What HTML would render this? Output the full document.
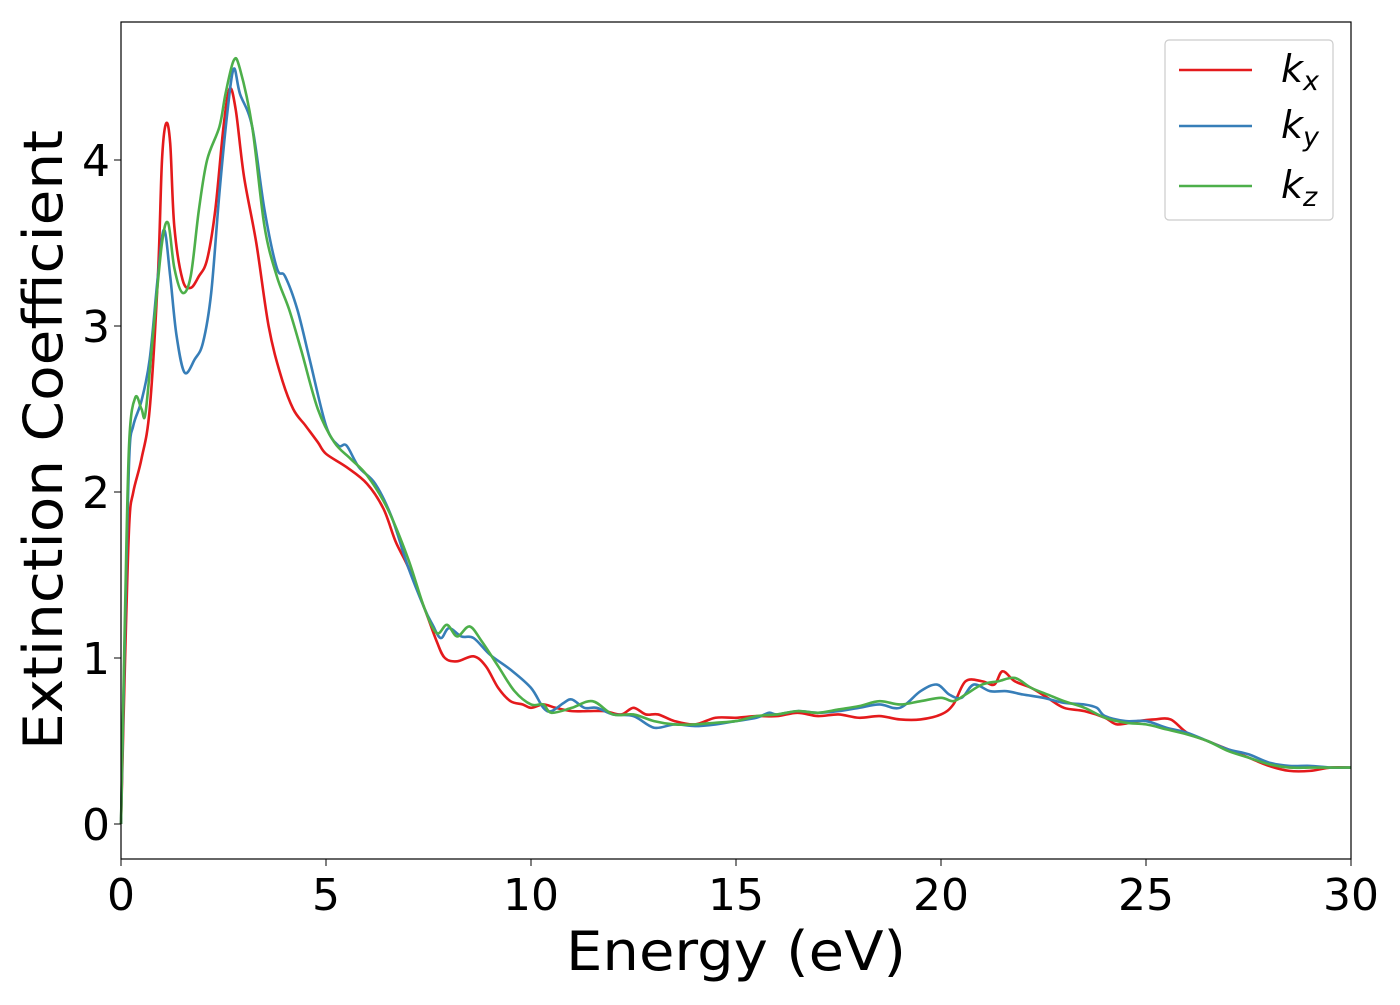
<!DOCTYPE html>
<html><head><meta charset="utf-8"><style>
body{margin:0;background:#fff;}
svg text{font-family:"DejaVu Sans","Liberation Sans",sans-serif;}
</style></head><body>
<svg id="chart" width="1400" height="1000" viewBox="0 0 1400 1000" xmlns="http://www.w3.org/2000/svg">
<rect width="1400" height="1000" fill="#fff"/>
<g id="plot"></g>
<rect x="121" y="22" width="1230" height="837" fill="none" stroke="#000" stroke-width="1.2"/>
<g id="ticks"></g>
<text x="736" y="970" font-size="54" text-anchor="middle" textLength="340" lengthAdjust="spacingAndGlyphs">Energy (eV)</text>
<text transform="translate(62,440) rotate(-90)" font-size="54" text-anchor="middle" textLength="620" lengthAdjust="spacingAndGlyphs">Extinction Coefficient</text>
<g>
<rect x="1165" y="40" width="168" height="180" rx="4" fill="#fff" fill-opacity="0.8" stroke="#ccc" stroke-width="1.2"/>
<line x1="1179" y1="70" x2="1252" y2="70" stroke="#e41a1c" stroke-width="2.5"/>
<text x="1281" y="82" font-size="38" font-style="italic">k<tspan font-size="27" dy="8">x</tspan></text>
<line x1="1179" y1="126" x2="1252" y2="126" stroke="#377eb8" stroke-width="2.5"/>
<text x="1281" y="138" font-size="38" font-style="italic">k<tspan font-size="27" dy="8">y</tspan></text>
<line x1="1179" y1="186" x2="1252" y2="186" stroke="#4daf4a" stroke-width="2.5"/>
<text x="1281" y="198" font-size="38" font-style="italic">k<tspan font-size="27" dy="8">z</tspan></text>
</g>
</svg>
<script>
const xTicks=[0,5,10,15,20,25,30];
const yTicks=[0,1,2,3,4];
const kxE=[0,0.1,0.2,0.3,0.5,0.7,0.9,1.0,1.1,1.2,1.3,1.5,1.7,1.9,2.1,2.3,2.5,2.65,2.8,3.0,3.3,3.6,3.9,4.2,4.5,4.8,5.0,5.5,6.0,6.4,6.7,7.0,7.4,7.7,7.9,8.2,8.6,8.9,9.2,9.5,9.8,10.0,10.3,10.6,11,11.4,11.8,12.2,12.5,12.8,13.1,13.5,14,14.5,15,15.5,16,16.5,17,17.5,18,18.5,19,19.5,20,20.3,20.6,21,21.3,21.5,21.8,22.2,22.6,23,23.5,24,24.3,24.8,25.2,25.6,26,26.5,27,27.5,28,28.5,29,29.5,30];
const kxV=[0,1.0,1.8,2.0,2.2,2.5,3.3,4.0,4.22,4.1,3.6,3.28,3.23,3.3,3.4,3.7,4.2,4.43,4.3,3.9,3.5,3.0,2.7,2.5,2.4,2.3,2.23,2.15,2.05,1.9,1.7,1.55,1.3,1.1,1.0,0.98,1.01,0.95,0.82,0.74,0.72,0.7,0.72,0.7,0.68,0.68,0.68,0.66,0.7,0.66,0.66,0.62,0.6,0.64,0.64,0.65,0.65,0.67,0.65,0.66,0.64,0.65,0.63,0.63,0.66,0.72,0.86,0.86,0.84,0.92,0.86,0.82,0.76,0.7,0.68,0.64,0.6,0.62,0.63,0.63,0.55,0.5,0.45,0.4,0.35,0.32,0.32,0.34,0.34];
const kyE=[0,0.1,0.2,0.3,0.5,0.7,0.9,1.05,1.2,1.35,1.55,1.8,2.0,2.2,2.4,2.6,2.75,2.9,3.2,3.5,3.8,4.0,4.3,4.6,5.0,5.3,5.5,5.8,6.2,6.6,7.0,7.4,7.6,7.8,8.0,8.3,8.6,9,9.5,10,10.3,10.5,10.8,11,11.3,11.6,12,12.5,13,13.5,14,14.5,15,15.5,15.8,16,16.5,17,17.5,18,18.5,19,19.5,19.9,20.2,20.5,20.8,21.2,21.6,22,22.5,23,23.5,23.8,24,24.5,25,25.5,26,26.5,27,27.5,28,28.5,29,29.5,30];
const kyV=[0,1.2,2.2,2.4,2.55,2.8,3.3,3.58,3.3,2.95,2.72,2.8,2.9,3.2,3.8,4.3,4.55,4.4,4.2,3.7,3.35,3.3,3.1,2.8,2.4,2.28,2.28,2.15,2.05,1.85,1.55,1.3,1.2,1.12,1.18,1.13,1.12,1.02,0.93,0.82,0.7,0.68,0.73,0.75,0.7,0.7,0.66,0.65,0.58,0.6,0.59,0.6,0.62,0.64,0.67,0.66,0.68,0.67,0.68,0.7,0.72,0.7,0.8,0.84,0.78,0.76,0.84,0.8,0.8,0.78,0.76,0.73,0.72,0.7,0.65,0.62,0.62,0.58,0.55,0.5,0.45,0.42,0.37,0.35,0.35,0.34,0.34];
const kzE=[0,0.1,0.2,0.35,0.5,0.6,0.8,1.0,1.15,1.3,1.5,1.7,1.9,2.1,2.4,2.55,2.75,2.9,3.2,3.5,3.8,4.1,4.4,4.8,5.2,5.6,6.0,6.5,7.0,7.4,7.7,7.95,8.2,8.5,8.8,9.2,9.6,10,10.3,10.5,11,11.5,12,12.5,13,13.5,14,14.5,15,15.5,16,16.5,17,17.5,18,18.5,19,19.5,20,20.3,20.6,21,21.4,21.8,22.2,22.6,23,23.5,24,24.5,25,25.5,26,26.5,27,27.5,28,28.5,29,29.5,30];
const kzV=[0,1.3,2.3,2.57,2.5,2.48,3.0,3.5,3.62,3.35,3.2,3.3,3.7,4.0,4.2,4.4,4.6,4.55,4.2,3.6,3.3,3.1,2.85,2.5,2.3,2.2,2.1,1.9,1.6,1.3,1.15,1.2,1.13,1.19,1.1,0.95,0.8,0.72,0.72,0.67,0.7,0.74,0.66,0.66,0.62,0.6,0.6,0.61,0.62,0.65,0.66,0.68,0.67,0.69,0.71,0.74,0.72,0.74,0.76,0.74,0.78,0.84,0.86,0.88,0.82,0.78,0.74,0.7,0.64,0.61,0.6,0.57,0.54,0.5,0.44,0.4,0.36,0.34,0.34,0.34,0.34];
const NS="http://www.w3.org/2000/svg";
const X=v=>121+v*41;
const Y=v=>824-v*166;
function smooth(xs,ys){
  const p=xs.map((x,i)=>[X(x),Y(ys[i])]);
  let d="M"+p[0][0]+","+p[0][1];
  for(let i=0;i<p.length-1;i++){
    const p0=p[Math.max(0,i-1)],p1=p[i],p2=p[i+1],p3=p[Math.min(p.length-1,i+2)];
    const c1=[p1[0]+(p2[0]-p0[0])/6,p1[1]+(p2[1]-p0[1])/6];
    const c2=[p2[0]-(p3[0]-p1[0])/6,p2[1]-(p3[1]-p1[1])/6];
    d+="C"+c1.join(",")+" "+c2.join(",")+" "+p2.join(",");
  }
  return d;
}
const plot=document.getElementById('plot');
[[kxE,kxV,'#e41a1c','kx'],[kyE,kyV,'#377eb8','ky'],[kzE,kzV,'#4daf4a','kz']].forEach(s=>{
  const path=document.createElementNS(NS,'path');
  path.setAttribute('d',smooth(s[0],s[1]));
  path.setAttribute('fill','none');
  path.setAttribute('stroke',s[2]);
  path.setAttribute('stroke-width','2.6');
  
  
  plot.appendChild(path);
});
const tk=document.getElementById('ticks');
xTicks.forEach(v=>{
  const l=document.createElementNS(NS,'line');
  l.setAttribute('x1',X(v));l.setAttribute('x2',X(v));l.setAttribute('y1',859);l.setAttribute('y2',866);l.setAttribute('stroke','#000');
  
  
  tk.appendChild(l);
  const t=document.createElementNS(NS,'text');
  t.setAttribute('x',X(v));t.setAttribute('y',910);t.setAttribute('font-size','44');t.setAttribute('text-anchor','middle');
  t.textContent=v;
  
  
  tk.appendChild(t);
});
yTicks.forEach(v=>{
  const l=document.createElementNS(NS,'line');
  l.setAttribute('x1',114);l.setAttribute('x2',121);l.setAttribute('y1',Y(v));l.setAttribute('y2',Y(v));l.setAttribute('stroke','#000');
  
  
  tk.appendChild(l);
  const t=document.createElementNS(NS,'text');
  t.setAttribute('x',110);t.setAttribute('y',Y(v)+16);t.setAttribute('font-size','44');t.setAttribute('text-anchor','end');
  t.textContent=v;
  
  
  tk.appendChild(t);
});
</script>
</body></html>
